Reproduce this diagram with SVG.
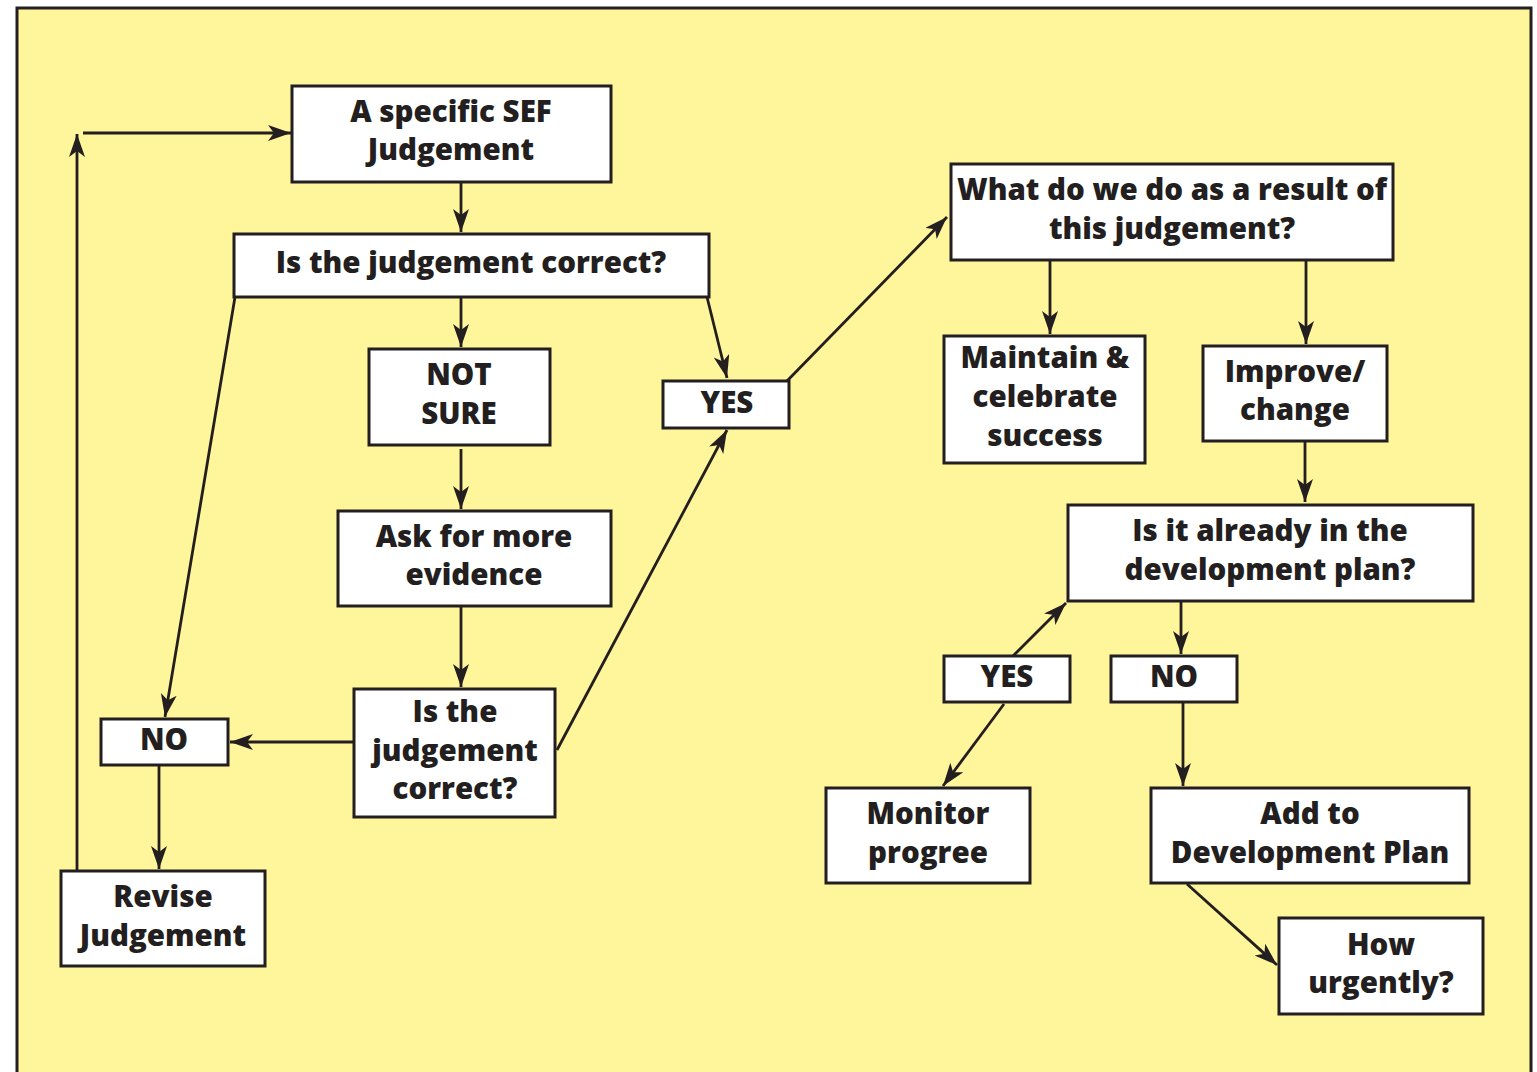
<svg xmlns="http://www.w3.org/2000/svg" width="1537" height="1072" viewBox="0 0 1537 1072">
<defs>
<marker id="ah" markerUnits="userSpaceOnUse" markerWidth="26" markerHeight="18" refX="23" refY="8" orient="auto">
<path d="M0,0 L23,8 L0,16 L6,8 z" fill="#231f20"/>
</marker>
<style>
.b{fill:#fff;stroke:#231f20;stroke-width:3}
.t{font-family:"Open Sans",Lato,sans-serif;font-weight:800;font-size:29.5px;fill:#231f20;text-anchor:middle}
.c line{stroke:#231f20;stroke-width:2.8;fill:none;marker-end:url(#ah)}
</style>
</defs>
<rect x="17" y="8" width="1514" height="1080" fill="#fff59a" stroke="#231f20" stroke-width="3"/>
<g class="c">
<line x1="77" y1="871" x2="77" y2="134"/>
<line x1="83" y1="133" x2="291" y2="133"/>
<line x1="461" y1="182" x2="461" y2="232"/>
<line x1="461" y1="297" x2="461" y2="347"/>
<line x1="707" y1="297" x2="727" y2="378"/>
<line x1="235" y1="297" x2="165" y2="717"/>
<line x1="461" y1="449" x2="461" y2="509"/>
<line x1="461" y1="606" x2="461" y2="687"/>
<line x1="354" y1="742" x2="230" y2="742"/>
<line x1="557" y1="750" x2="727" y2="430"/>
<line x1="159" y1="765" x2="159" y2="869"/>
<line x1="787" y1="381" x2="947" y2="217"/>
<line x1="1050" y1="260" x2="1050" y2="334"/>
<line x1="1306" y1="260" x2="1306" y2="344"/>
<line x1="1305" y1="441" x2="1305" y2="502"/>
<line x1="1181" y1="601" x2="1181" y2="654"/>
<line x1="1013" y1="656" x2="1066" y2="603"/>
<line x1="1004" y1="704" x2="943" y2="786"/>
<line x1="1183" y1="702" x2="1183" y2="786"/>
<line x1="1187" y1="884" x2="1277" y2="965"/>
</g>
<g id="n1"><rect class="b" x="292" y="86" width="319" height="96"/><text class="t" x="451" y="122">A specific SEF</text><text class="t" x="451" y="160">Judgement</text></g>
<g id="n2"><rect class="b" x="234" y="234" width="475" height="63"/><text class="t" x="471" y="273">Is the judgement correct?</text></g>
<g id="n3"><rect class="b" x="369" y="349" width="181" height="96"/><text class="t" x="459" y="385">NOT</text><text class="t" x="459" y="424">SURE</text></g>
<g id="n4"><rect class="b" x="663" y="381" width="126" height="47"/><text class="t" x="727" y="413">YES</text></g>
<g id="n5"><rect class="b" x="338" y="511" width="273" height="95"/><text class="t" x="474" y="547">Ask for more</text><text class="t" x="474" y="585">evidence</text></g>
<g id="n6"><rect class="b" x="354" y="689" width="201" height="128"/><text class="t" x="455" y="722">Is the</text><text class="t" x="455" y="761">judgement</text><text class="t" x="455" y="799">correct?</text></g>
<g id="n7"><rect class="b" x="101" y="719" width="127" height="46"/><text class="t" x="164" y="750">NO</text></g>
<g id="n8"><rect class="b" x="61" y="871" width="204" height="95"/><text class="t" x="163" y="907">Revise</text><text class="t" x="163" y="946">Judgement</text></g>
<g id="n9"><rect class="b" x="951" y="164" width="442" height="96"/><text class="t" x="1172" y="200">What do we do as a result of</text><text class="t" x="1172" y="239">this judgement?</text></g>
<g id="n10"><rect class="b" x="944" y="336" width="201" height="127"/><text class="t" x="1045" y="368">Maintain &amp;</text><text class="t" x="1045" y="407">celebrate</text><text class="t" x="1045" y="446">success</text></g>
<g id="n11"><rect class="b" x="1203" y="346" width="184" height="95"/><text class="t" x="1295" y="382">Improve/</text><text class="t" x="1295" y="420">change</text></g>
<g id="n12"><rect class="b" x="1068" y="505" width="405" height="96"/><text class="t" x="1270" y="541">Is it already in the</text><text class="t" x="1270" y="580">development plan?</text></g>
<g id="n13"><rect class="b" x="944" y="656" width="126" height="46"/><text class="t" x="1007" y="687">YES</text></g>
<g id="n14"><rect class="b" x="1111" y="656" width="126" height="46"/><text class="t" x="1174" y="687">NO</text></g>
<g id="n15"><rect class="b" x="826" y="788" width="204" height="95"/><text class="t" x="928" y="824">Monitor</text><text class="t" x="928" y="863">progree</text></g>
<g id="n16"><rect class="b" x="1151" y="788" width="318" height="95"/><text class="t" x="1310" y="824">Add to</text><text class="t" x="1310" y="863">Development Plan</text></g>
<g id="n17"><rect class="b" x="1279" y="918" width="204" height="96"/><text class="t" x="1381" y="955">How</text><text class="t" x="1381" y="993">urgently?</text></g>
</svg>
